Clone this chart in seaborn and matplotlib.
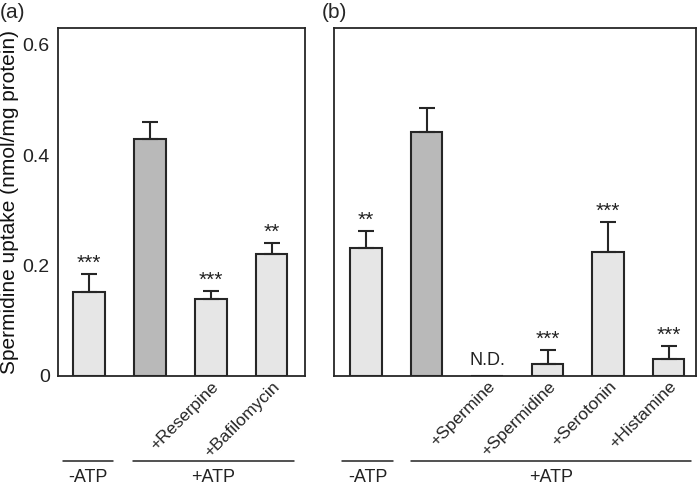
import matplotlib
matplotlib.use("Agg")
import matplotlib.pyplot as plt
import matplotlib.transforms as mtransforms
import seaborn as sns
import pandas as pd
import numpy as np

sns.set_style("white")
plt.rcParams['font.family'] = ['Liberation Sans', 'DejaVu Sans']

# ---- data ----
cats_a = ["-ATP", "+ATP", "+Reserpine", "+Bafilomycin"]
vals_a = [0.152, 0.429, 0.139, 0.220]
errs_a = [0.032, 0.031, 0.015, 0.020]
sig_a = ["***", "", "***", "**"]
labels_a = ["", "", "+Reserpine", "+Bafilomycin"]

cats_b = ["-ATP", "+ATP", "+Spermine", "+Spermidine", "+Serotonin", "+Histamine"]
vals_b = [0.231, 0.441, 0.0, 0.022, 0.224, 0.030]
errs_b = [0.032, 0.045, 0.0, 0.025, 0.055, 0.025]
sig_b = ["**", "", "", "***", "***", "***"]
labels_b = ["", "", "+Spermine", "+Spermidine", "+Serotonin", "+Histamine"]
nd_b = [False, False, True, False, False, False]

group_labels = ["-ATP", "+ATP"]

LIGHT = "#e6e6e6"
DARK = "#b9b9b9"
EDGE = "#262626"

fig = plt.figure(figsize=(7, 4.88), dpi=100)
W, H = 700, 488
ax_a = fig.add_axes([58 / W, 1 - 376 / H, (305 - 58) / W, (376 - 28) / H])
ax_b = fig.add_axes([334 / W, 1 - 376 / H, (696 - 334) / W, (376 - 28) / H])


def draw(ax, cats, vals, errs, sig, labels, xlim, spans, nd=None):
    df = pd.DataFrame({"cat": cats, "val": vals})
    colors = {c: (DARK if c == "+ATP" else LIGHT) for c in cats}
    sns.barplot(data=df, x="cat", y="val", hue="cat", order=cats,
                palette=colors, legend=False, width=0.52,
                edgecolor=EDGE, linewidth=1.5, ax=ax, errorbar=None)
    x = np.arange(len(cats))
    for i in range(len(cats)):
        if errs[i] > 0:
            ax.errorbar(x[i], vals[i], yerr=[[0], [errs[i]]], fmt="none",
                        ecolor=EDGE, elinewidth=1.5, capsize=6, capthick=1.5, zorder=1)
        if sig[i]:
            ax.text(x[i], vals[i] + errs[i] + 0.002, sig[i], ha="center",
                    va="bottom", fontsize=15, color="#222")
        if nd is not None and nd[i]:
            ax.text(x[i], 0.012, "N.D.", ha="center", va="bottom",
                    fontsize=13, color="#222")
    ax.set_xlim(*xlim)
    ax.set_ylim(0, 0.63)
    ax.set_xticks(x)
    off = mtransforms.ScaledTranslation(24 / 100, -3 / 100, ax.figure.dpi_scale_trans)
    ax.set_xticklabels(labels, rotation=45, ha="right", va="top",
                       rotation_mode="anchor", fontsize=12.5,
                       family=['Liberation Sans Narrow', 'Liberation Sans', 'DejaVu Sans'])
    for t in ax.get_xticklabels():
        t.set_transform(t.get_transform() + off)
    ax.set_xticks(x[:-1] + 0.5, minor=True)
    ax.tick_params(axis="x", which="major", length=0, pad=2)
    ax.tick_params(axis="x", which="minor", direction="in", length=9,
                   width=1.3, color=EDGE)
    ax.set_yticks([0, 0.2, 0.4, 0.6])
    ax.set_yticks([0.1, 0.3, 0.5], minor=True)
    ax.tick_params(axis="y", which="both", direction="in", length=6,
                   width=1.3, color=EDGE, labelsize=14, pad=6, labelcolor="#222")
    ax.set_xlabel("")
    ax.set_ylabel("")
    for s in ax.spines.values():
        s.set_linewidth(1.3)
        s.set_color(EDGE)
    # group lines below axis
    for (x0, x1), txt in zip(spans, group_labels):
        ax.plot([x0, x1], [-0.154, -0.154], color="#222", lw=1.1, clip_on=False)
        ax.text((x0 + x1) / 2, -0.168, txt, ha="center", va="top",
                fontsize=13, color="#222", clip_on=False)


draw(ax_a, cats_a, vals_a, errs_a, sig_a, labels_a, (-0.51, 3.55),
     [(-0.43, 0.39), (0.72, 3.375)])
draw(ax_b, cats_b, vals_b, errs_b, sig_b, labels_b, (-0.53, 5.45),
     [(-0.39, 0.45), (0.74, 5.37)], nd=nd_b)

ax_a.set_yticklabels(["0", "0.2", "0.4", "0.6"])
ax_b.set_yticklabels([])
ax_a.set_ylabel("Spermidine uptake (nmol/mg protein)", fontsize=15, color="#111")
ax_a.yaxis.set_label_coords((19 - 58) / 247, (376 - 202) / 348)

fig.text(0 / W, 1 - 13 / H, "(a)", fontsize=15, va="center", ha="left")
fig.text(322 / W, 1 - 13 / H, "(b)", fontsize=15, va="center", ha="left")

fig.savefig("out.png", dpi=100)
